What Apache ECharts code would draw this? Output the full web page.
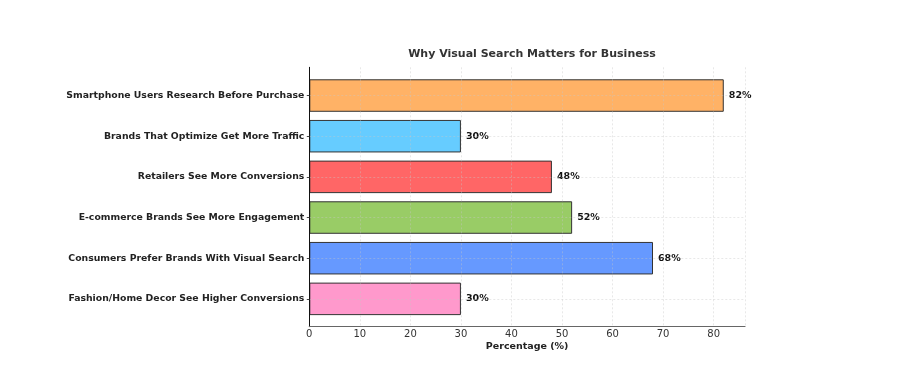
<!DOCTYPE html>
<html><head><meta charset="utf-8">
<script src="https://cdn.jsdelivr.net/npm/echarts@6/dist/echarts.min.js"></script>
<style>html,body{margin:0;padding:0;background:#fff}#c{width:908px;height:366px}</style>
</head><body><div id="c"></div>
<script>
const categories = [
  "Smartphone Users Research Before Purchase",
  "Brands That Optimize Get More Traffic",
  "Retailers See More Conversions",
  "E-commerce Brands See More Engagement",
  "Consumers Prefer Brands With Visual Search",
  "Fashion/Home Decor See Higher Conversions"
];
const values = [82, 30, 48, 52, 68, 30];
const colors = ["#FFB266", "#66CCFF", "#FF6666", "#99CC66", "#6699FF", "#FF99CC"];
const xTicks = [0, 10, 20, 30, 40, 50, 60, 70, 80];

const FONT = "DejaVu Sans";
const xMax = 86.2;
const gridLine = {show: true, lineStyle: {color: "rgba(200,200,200,0.5)", type: [2, 2], width: 0.8}};

const chart = echarts.init(document.getElementById("c"));
chart.setOption({
  backgroundColor: "#fff",
  animation: false,
  title: {
    text: "Why Visual Search Matters for Business",
    left: 527, top: 44, textAlign: "center",
    textStyle: {fontFamily: FONT, fontSize: 11, fontWeight: "bold", color: "#333"}
  },
  grid: [
    {left: 309.3, right: 163, top: 75.2, height: 244},
    {left: 309.3, right: 163, top: 67.3, bottom: 39.3}
  ],
  xAxis: [
    {gridIndex: 0, type: "value", min: 0, max: xMax, show: false},
    {gridIndex: 1, type: "value", min: 0, max: xMax, interval: 10, z: 10,
     axisLine: {show: true, lineStyle: {color: "#666", width: 1.2}},
     axisTick: {show: false},
     axisLabel: {fontFamily: FONT, fontSize: 10, color: "#333", margin: 3,
       formatter: v => xTicks.includes(v) ? String(v) : ""},
     splitLine: gridLine,
     name: "Percentage (%)", nameLocation: "middle", nameGap: 15, nameMoveOverlap: false,
     nameTextStyle: {fontFamily: FONT, fontSize: 9.5, fontWeight: "bold", color: "#222"}}
  ],
  yAxis: [
    {gridIndex: 0, type: "category", data: categories, inverse: true, z: 10,
     axisLine: {show: false},
     axisTick: {show: true, alignWithLabel: true, length: 2.5, lineStyle: {color: "#444"}},
     axisLabel: {fontFamily: FONT, fontSize: 9.3, fontWeight: "bold", color: "#222", margin: 5},
     splitLine: Object.assign({alignWithLabel: true}, gridLine)},
    {gridIndex: 1, type: "value", min: 0, max: 1, z: 10,
     axisLine: {show: true, lineStyle: {color: "#111", width: 1}},
     axisTick: {show: false}, axisLabel: {show: false}, splitLine: {show: false}}
  ],
  series: [{
    type: "bar",
    xAxisIndex: 0, yAxisIndex: 0,
    data: values.map((v, i) => ({value: v, itemStyle: {color: colors[i]}})),
    barWidth: 32.5,
    itemStyle: {borderColor: "#333", borderWidth: 1},
    label: {show: true, position: "right", distance: 5, formatter: p => p.value + "%",
      fontFamily: FONT, fontSize: 9.5, fontWeight: "bold", color: "#111"}
  }]
});
</script></body></html>
